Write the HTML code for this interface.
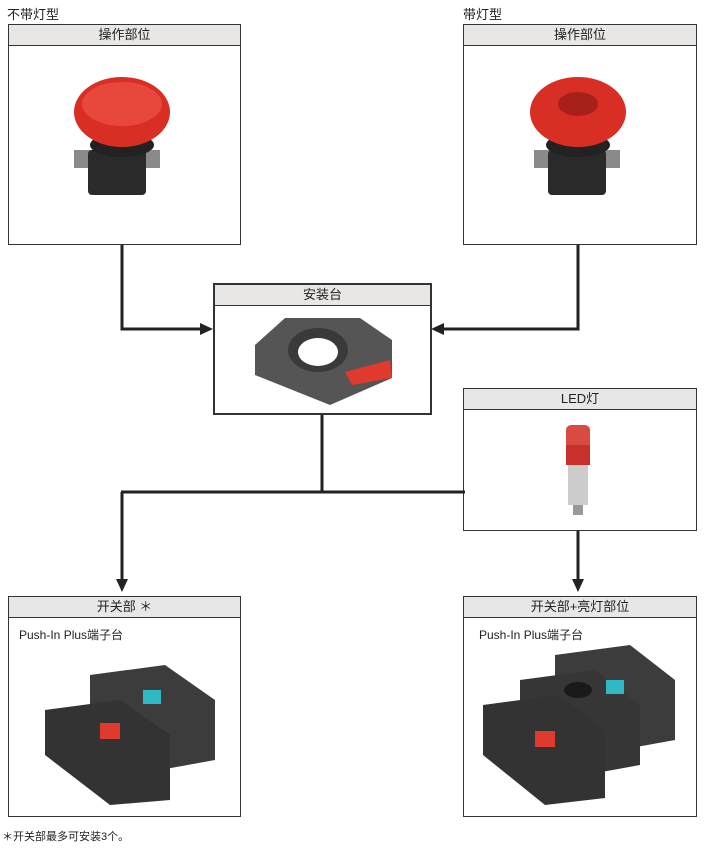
<!DOCTYPE html>
<html><head><meta charset="utf-8"><style>
body{margin:0;width:704px;height:850px;background:#fff;position:relative;font-family:"Liberation Sans","Noto Sans CJK SC",sans-serif;color:#222;overflow:hidden}
.box{position:absolute;border:1px solid #333;background:#fff;box-sizing:border-box}
.hd{height:20px;background:#e8e7e5;border-bottom:1px solid #333;text-align:center;font-size:13px;line-height:20px}
.t{position:absolute;font-size:13px}
svg{position:absolute;left:0;top:0}
</style></head><body>
<div class="t" style="left:7px;top:4px">不带灯型</div>
<div class="t" style="left:463px;top:4px">带灯型</div>
<div class="box" style="left:8px;top:24px;width:233px;height:221px"><div class="hd">操作部位</div></div>
<div class="box" style="left:463px;top:24px;width:234px;height:221px"><div class="hd">操作部位</div></div>
<div class="box" style="left:213px;top:283px;width:219px;height:132px;border-width:2px"><div class="hd">安装台</div></div>
<div class="box" style="left:463px;top:388px;width:234px;height:143px"><div class="hd">LED灯</div></div>
<div class="box" style="left:8px;top:596px;width:233px;height:221px"><div class="hd">开关部 ＊</div><div style="font-size:12px;padding:8px 0 0 10px">Push-In Plus端子台</div></div>
<div class="box" style="left:463px;top:596px;width:234px;height:221px"><div class="hd">开关部+亮灯部位</div><div style="font-size:12px;padding:8px 0 0 15px">Push-In Plus端子台</div></div>
<div class="t" style="left:2px;top:828px;font-size:11px">＊开关部最多可安装3个。</div>
<svg width="704" height="850">
<g stroke="#222" stroke-width="3" fill="none">
<polyline points="122,245 122,329 203,329"/>
<polyline points="578,245 578,329 441,329"/>
<line x1="322" y1="415" x2="322" y2="492"/>
<line x1="121" y1="492" x2="465" y2="492"/>
<line x1="122" y1="492" x2="122" y2="582"/>
<line x1="578" y1="531" x2="578" y2="582"/>
</g>
<g fill="#222">
<polygon points="213,329 200,323 200,335"/>
<polygon points="431,329 444,323 444,335"/>
<polygon points="122,592 116,579 128,579"/>
<polygon points="578,592 572,579 584,579"/>
</g>
<!-- buttons -->
<g>
<rect x="74" y="150" width="86" height="18" fill="#8a8a8a"/>
<rect x="88" y="150" width="58" height="45" rx="4" fill="#2a2a2a"/>
<ellipse cx="122" cy="145" rx="32" ry="12" fill="#222"/>
<ellipse cx="122" cy="112" rx="48" ry="35" fill="#d92e24"/>
<ellipse cx="122" cy="104" rx="40" ry="22" fill="#e8473c"/>
</g>
<g>
<rect x="534" y="150" width="86" height="18" fill="#8a8a8a"/>
<rect x="548" y="150" width="58" height="45" rx="4" fill="#2a2a2a"/>
<ellipse cx="578" cy="145" rx="32" ry="12" fill="#222"/>
<ellipse cx="578" cy="112" rx="48" ry="35" fill="#d92e24"/>
<ellipse cx="578" cy="104" rx="20" ry="12" fill="#a8201a"/>
</g>
<!-- mount -->
<polygon points="255,345 285,318 360,318 392,340 392,378 330,405 255,375" fill="#555"/>
<ellipse cx="318" cy="350" rx="30" ry="22" fill="#3a3a3a"/>
<ellipse cx="318" cy="352" rx="20" ry="14" fill="#fff"/>
<polygon points="345,372 390,360 392,378 352,385" fill="#e0392d"/>
<!-- LED -->
<rect x="566" y="425" width="24" height="24" rx="5" fill="#d94a40"/>
<rect x="566" y="445" width="24" height="20" fill="#c8302a"/>
<rect x="568" y="465" width="20" height="40" fill="#ccc"/>
<rect x="573" y="505" width="10" height="10" fill="#999"/>
<!-- switch left -->
<polygon points="90,675 165,665 215,700 215,760 160,770 90,720" fill="#3c3c3c"/>
<polygon points="45,710 120,700 170,735 170,800 110,805 45,755" fill="#333"/>
<rect x="143" y="690" width="18" height="14" fill="#30b8c4"/>
<rect x="100" y="723" width="20" height="16" fill="#e0392d"/>
<!-- switch right -->
<polygon points="555,655 630,645 675,680 675,740 620,750 555,700" fill="#3c3c3c"/>
<polygon points="520,680 595,670 640,705 640,765 585,775 520,725" fill="#363636"/>
<polygon points="483,705 558,695 605,730 605,798 545,805 483,755" fill="#333"/>
<rect x="606" y="680" width="18" height="14" fill="#30b8c4"/>
<ellipse cx="578" cy="690" rx="14" ry="8" fill="#1a1a1a"/>
<rect x="535" y="731" width="20" height="16" fill="#e0392d"/>
</svg>
</body></html>
